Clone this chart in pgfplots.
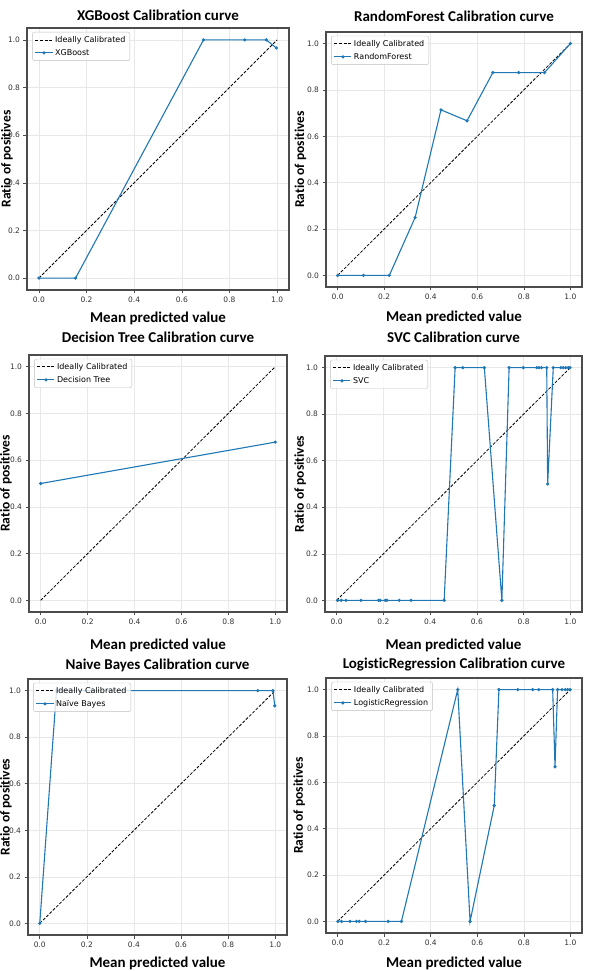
\documentclass[border=0pt]{standalone}
\usepackage{fontspec}
\setmainfont{DejaVu Sans}
\newfontfamily\calib[Ligatures={NoCommon}]{Carlito}
\usepackage{pgfplots}
\pgfplotsset{compat=1.18}
\definecolor{mplblue}{HTML}{1F77B4}
\pgfplotsset{
  calib/.style={
    anchor=south west,
    scale only axis,
    xmin=-0.05, xmax=1.05, ymin=-0.05, ymax=1.05,
    xtick={0,0.2,0.4,0.6,0.8,1.0},
    ytick={0,0.2,0.4,0.6,0.8,1.0},
    grid=major,
    major grid style={gray!18, line width=0.6pt},
    axis line style={black!70, line width=1.2pt},
    tick align=outside,
    major tick length=3.5pt,
    tick style={black!70, line width=0.6pt},
    xtick pos=bottom, ytick pos=left,
    ticklabel style={font=\fontsize{7.5}{9}\selectfont, text=black!80},
    /pgf/number format/.cd, fixed, fixed zerofill, precision=1, assume math mode=true,
    /pgfplots/.cd,
    title style={font=\calib\bfseries\fontsize{15}{17}\selectfont, at={(0.5,1)}, anchor=center},
    xlabel={Mean predicted value},
    ylabel={Ratio of positives},
    xlabel style={font=\calib\bfseries\fontsize{15}{17}\selectfont, at={(0.5,0)}, anchor=center},
    ylabel style={font=\calib\bfseries\fontsize{13.5}{16}\selectfont, anchor=center},
    legend style={at={(0.02,0.985)}, anchor=north west,
      font=\fontsize{8}{9.5}\selectfont, draw=black!25, rounded corners=2pt,
      fill=white, fill opacity=0.8, text opacity=1, draw opacity=1,
      inner xsep=2.5pt, inner ysep=2pt, row sep=1.5pt},
    legend cell align=left,
  },
  ideal/.style={black, dashed, dash pattern=on 3pt off 1.6pt, line width=0.8pt, no marks},
  model/.style={mplblue, line width=1.1pt, mark=*, mark size=1pt, mark options={solid}},
}
\begin{document}
\begin{tikzpicture}
\useasboundingbox (0,0) rectangle (589pt,971pt);
% XGBoost
\begin{axis}[calib, at={(27pt,681pt)}, width=262pt, height=262pt, title={XGBoost Calibration curve},
  title style={yshift=7pt}, xlabel style={yshift=-28pt}, ylabel style={at={(axis description cs:-0.077,0.5)}}]
\addplot[ideal] coordinates {(0,0) (1,1)}; \addlegendentry{Ideally Calibrated}
\addplot[model] coordinates {(0,0) (0.154,0) (0.691,1) (0.864,1) (0.955,1) (0.997,0.966)}; \addlegendentry{XGBoost}
\end{axis}
% RandomForest
\begin{axis}[calib, at={(326pt,684pt)}, width=256pt, height=255pt, title={RandomForest Calibration curve},
  title style={yshift=10pt}, xlabel style={yshift=-30pt}, ylabel style={at={(axis description cs:-0.10,0.5)}}]
\addplot[ideal] coordinates {(0,0) (1,1)}; \addlegendentry{Ideally Calibrated}
\addplot[model] coordinates {(0,0) (0.111,0) (0.222,0) (0.333,0.25) (0.444,0.714) (0.556,0.667) (0.667,0.875) (0.778,0.875) (0.889,0.875) (1.0,1.0)}; \addlegendentry{RandomForest}
\end{axis}
% Decision Tree
\begin{axis}[calib, at={(29pt,359pt)}, width=258pt, height=257pt, title={Decision Tree Calibration curve},
  title style={yshift=12pt}, xlabel style={yshift=-33pt}, ylabel style={at={(axis description cs:-0.089,0.5)}}]
\addplot[ideal] coordinates {(0,0) (1,1)}; \addlegendentry{Ideally Calibrated}
\addplot[model] coordinates {(0,0.5) (1,0.677)}; \addlegendentry{Decision Tree}
\end{axis}
% SVC
\begin{axis}[calib, at={(325pt,359pt)}, width=257pt, height=256pt, title={SVC Calibration curve},
  title style={yshift=13pt}, xlabel style={yshift=-33pt}, ylabel style={at={(axis description cs:-0.097,0.5)}}]
\addplot[ideal] coordinates {(0,0) (1,1)}; \addlegendentry{Ideally Calibrated}
\addplot[model] coordinates {(0.004,0) (0.020,0) (0.040,0) (0.104,0) (0.179,0) (0.186,0) (0.208,0) (0.215,0) (0.268,0) (0.318,0) (0.460,0) (0.507,1) (0.540,1) (0.632,1) (0.707,0) (0.738,1) (0.799,1) (0.856,1) (0.866,1) (0.877,1) (0.899,1) (0.903,0.5) (0.927,1) (0.959,1) (0.970,1) (0.980,1) (0.991,1) (0.999,1)}; \addlegendentry{SVC}
\end{axis}
% Naive Bayes
\begin{axis}[calib, at={(28pt,36pt)}, width=259pt, height=256pt, title={Naive Bayes Calibration curve},
  title style={yshift=8pt}, xlabel style={yshift=-28pt}, ylabel style={at={(axis description cs:-0.085,0.5)}}]
\addplot[ideal] coordinates {(0,0) (1,1)}; \addlegendentry{Ideally Calibrated}
\addplot[model] coordinates {(0,0) (0.071,1) (0.926,1) (0.990,1) (0.998,0.935)}; \addlegendentry{Naïve Bayes}
\end{axis}
% LogisticRegression
\begin{axis}[calib, at={(326pt,38pt)}, width=256pt, height=255pt, title={LogisticRegression Calibration curve},
  title style={yshift=7pt}, xlabel style={yshift=-30pt}, ylabel style={at={(axis description cs:-0.105,0.5)}}]
\addplot[ideal] coordinates {(0,0) (1,1)}; \addlegendentry{Ideally Calibrated}
\addplot[model] coordinates {(0.001,0) (0.017,0) (0.053,0) (0.081,0) (0.093,0) (0.120,0) (0.217,0) (0.274,0) (0.516,1) (0.569,0) (0.673,0.5) (0.693,1) (0.774,1) (0.838,1) (0.864,1) (0.924,1) (0.934,0.667) (0.945,1) (0.964,1) (0.978,1) (0.988,1) (0.999,1)}; \addlegendentry{LogisticRegression}
\end{axis}
\end{tikzpicture}
\end{document}
